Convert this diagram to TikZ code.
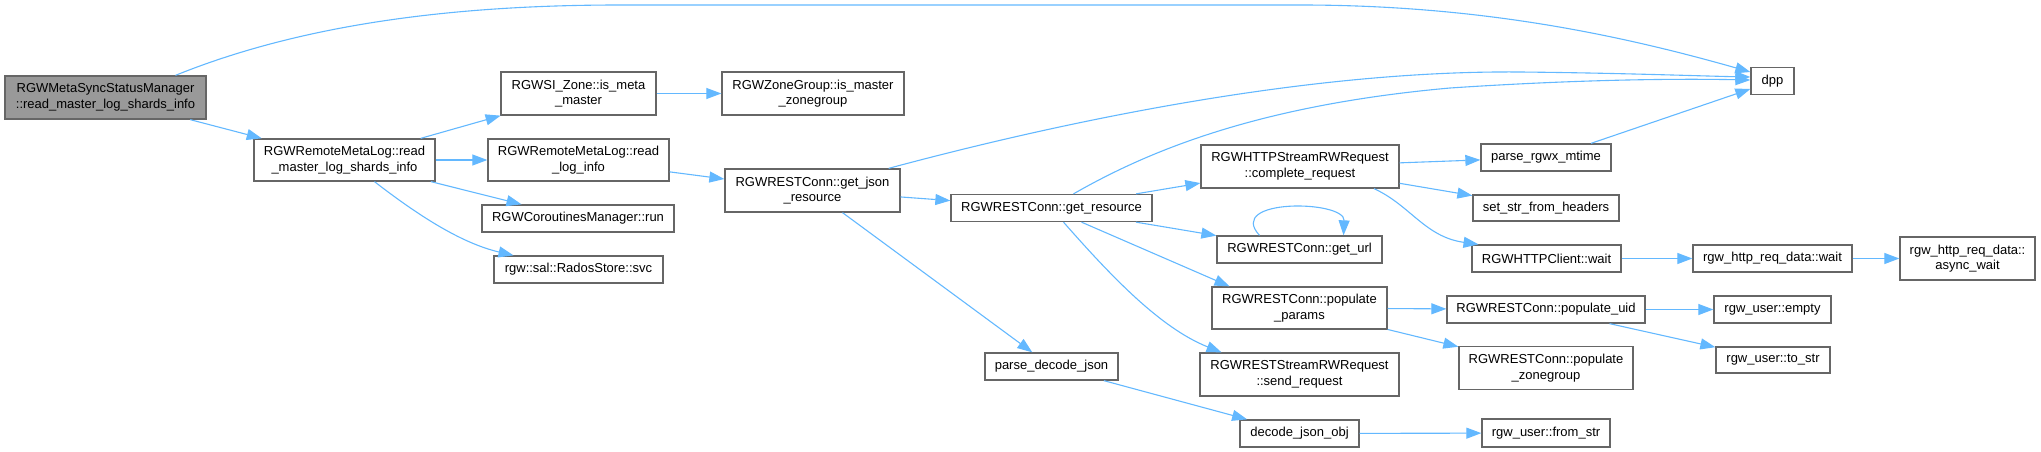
\documentclass[tikz,border=0pt]{standalone}
\usepackage{fontspec}
\setmainfont{Liberation Sans}
\usetikzlibrary{arrows.meta}
\definecolor{callblue}{HTML}{63B8FF}
\definecolor{boxgray}{HTML}{666666}
\definecolor{rootgray}{HTML}{999999}
\tikzset{
	fnbox/.style={rectangle, draw=boxgray, line width=1.3pt, fill=white, inner sep=0pt,
		align=center, font=\fontsize{13}{15.5}\selectfont},
	rootbox/.style={fnbox, fill=rootgray},
	call/.style={-{Triangle[length=15pt,width=11pt]}, color=callblue, line width=1.1pt},
}
\begin{document}
\begin{tikzpicture}[x=1pt, y=-1pt]
	\useasboundingbox (0,0) rectangle (2041,452);
	% functions, one column after the other
	\node[rootbox, minimum width=201pt, minimum height=43pt] (main) at (105.5,97.5) {RGWMetaSyncStatusManager\\::read\_master\_log\_shards\_info};
	\node[fnbox, minimum width=181pt, minimum height=42pt] (rml) at (344.5,160) {RGWRemoteMetaLog::read\\\_master\_log\_shards\_info};
	\node[fnbox, minimum width=155pt, minimum height=43pt] (ismeta) at (578.5,93.5) {RGWSI\_Zone::is\_meta\\\_master};
	\node[fnbox, minimum width=181pt, minimum height=42pt] (readlog) at (578.5,160) {RGWRemoteMetaLog::read\\\_log\_info};
	\node[fnbox, minimum width=192pt, minimum height=27pt] (corun) at (578,218.5) {RGWCoroutinesManager::run};
	\node[fnbox, minimum width=169pt, minimum height=27pt] (svc) at (578.5,269.5) {rgw::sal::RadosStore::svc};
	\node[fnbox, minimum width=182pt, minimum height=43pt] (iszg) at (813,93.5) {RGWZoneGroup::is\_master\\\_zonegroup};
	\node[fnbox, minimum width=175pt, minimum height=43pt] (getjson) at (812.5,190.5) {RGWRESTConn::get\_json\\\_resource};
	\node[fnbox, minimum width=201pt, minimum height=27pt] (getres) at (1051.5,208) {RGWRESTConn::get\_resource};
	\node[fnbox, minimum width=133pt, minimum height=27pt] (parsedec) at (1051.5,366.5) {parse\_decode\_json};
	\node[fnbox, minimum width=198pt, minimum height=43pt] (complete) at (1300,166.5) {RGWHTTPStreamRWRequest\\::complete\_request};
	\node[fnbox, minimum width=165pt, minimum height=27pt] (geturl) at (1299.5,249.5) {RGWRESTConn::get\_url};
	\node[fnbox, minimum width=175pt, minimum height=42pt] (popparams) at (1299.5,308) {RGWRESTConn::populate\\\_params};
	\node[fnbox, minimum width=199pt, minimum height=43pt] (sendreq) at (1299.5,374.5) {RGWRESTStreamRWRequest\\::send\_request};
	\node[fnbox, minimum width=119pt, minimum height=27pt] (decode) at (1299.5,433.5) {decode\_json\_obj};
	\node[fnbox, minimum width=130pt, minimum height=27pt] (parsemtime) at (1546,157.5) {parse\_rgwx\_mtime};
	\node[fnbox, minimum width=146pt, minimum height=26pt] (setstr) at (1546,208) {set\_str\_from\_headers};
	\node[fnbox, minimum width=149pt, minimum height=27pt] (httpwait) at (1546.5,258.5) {RGWHTTPClient::wait};
	\node[fnbox, minimum width=198pt, minimum height=27pt] (popuid) at (1546,309.5) {RGWRESTConn::populate\_uid};
	\node[fnbox, minimum width=174pt, minimum height=43pt] (popzg) at (1546,368) {RGWRESTConn::populate\\\_zonegroup};
	\node[fnbox, minimum width=128pt, minimum height=28pt] (fromstr) at (1546,433) {rgw\_user::from\_str};
	\node[fnbox, minimum width=43pt, minimum height=27pt] (dpp) at (1772.5,81) {dpp};
	\node[fnbox, minimum width=159pt, minimum height=27pt] (reqwait) at (1772.5,258.5) {rgw\_http\_req\_data::wait};
	\node[fnbox, minimum width=117pt, minimum height=27pt] (empty) at (1772.5,309.5) {rgw\_user::empty};
	\node[fnbox, minimum width=114pt, minimum height=26pt] (tostr) at (1773,360) {rgw\_user::to\_str};
	\node[fnbox, minimum width=135pt, minimum height=43pt] (asyncwait) at (1967.5,258.5) {rgw\_http\_req\_data::\\async\_wait};
	% calls
	\draw[call] ([xshift=70pt]main.north) .. controls (300,25) and (450,5) .. (620,5) -- (1300,5) .. controls (1480,5) and (1620,35) .. ([yshift=9pt]dpp.west);
	\draw[call] (main) -- (rml);
	\draw[call] (rml) -- (ismeta); \draw[call] (rml) -- (readlog);
	\draw[call] (rml) -- (corun);
	\draw[call] ([xshift=30pt]rml.south) .. controls (415,213) and (460,243) .. ([xshift=-65pt]svc.north);
	\draw[call] (ismeta) -- (iszg); \draw[call] (readlog) -- (getjson);
	\draw[call] ([xshift=-12pt]getjson.north east) .. controls (1050,125) and (1300,70) .. (1520,72) .. controls (1620,73) and (1700,76) .. ([yshift=4pt]dpp.west);
	\draw[call] (getjson) -- (getres); \draw[call] (getjson) -- (parsedec);
	\draw[call] ([xshift=22pt]getres.north) .. controls (1150,150) and (1260,105) .. (1450,88) .. controls (1600,78) and (1700,79) .. ([yshift=1pt]dpp.west);
	\draw[call] (getres) -- (complete); \draw[call] (getres) -- (geturl);
	\draw[call] ([xshift=30pt]getres.south) -- ([xshift=-70pt]popparams.north);
	\draw[call] ([xshift=12pt]getres.south) .. controls (1110,275) and (1160,328) .. ([xshift=-78pt]sendreq.north);
	\draw[call] ([xshift=-40pt]geturl.north) .. controls (1225,198) and (1345,200) .. ([xshift=44pt]geturl.north);
	\draw[call] (complete) -- (parsemtime); \draw[call] (complete) -- (setstr);
	\draw[call] ([xshift=74pt]complete.south) .. controls (1410,205) and (1425,237) .. ([xshift=-68pt]httpwait.north);
	\draw[call] ([xshift=45pt]parsemtime.north) -- ([yshift=-8pt]dpp.west);
	\draw[call] (httpwait) -- (reqwait); \draw[call] (reqwait) -- (asyncwait);
	\draw[call] (popparams) -- (popuid); \draw[call] (popparams) -- (popzg);
	\draw[call] (popuid) -- (empty); \draw[call] (popuid) -- (tostr);
	\draw[call] (parsedec) -- (decode); \draw[call] (decode) -- (fromstr);
\end{tikzpicture}
\end{document}
